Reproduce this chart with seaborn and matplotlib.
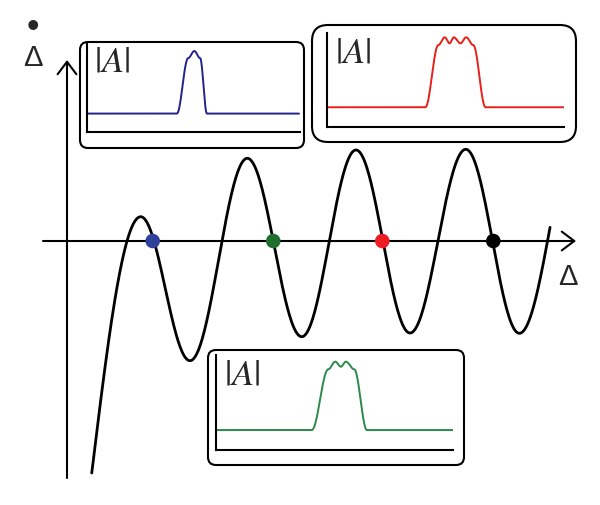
import numpy as np
import matplotlib.pyplot as plt
import seaborn as sns
from matplotlib.patches import FancyBboxPatch

# main curve: turning points (x = detuning, y = its time derivative)
curve_x = [0.225, 0.670, 1.118, 1.639, 2.134, 2.627, 3.118, 3.625, 4.112, 4.391]
curve_y = [-2.32, 0.243, -1.197, 0.827, -0.957, 0.910, -0.920, 0.917, -0.923, 0.137]

# coloured points on the detuning axis
dot_x = [0.779, 1.875, 2.866, 3.875]
dot_y = [0.0, 0.0, 0.0, 0.0]
dot_colors = ["#2e3f9c", "#1f6f2f", "#ee1c24", "#000000"]

# inset pulse profiles |A| (knots over one round trip, normalised)
blue_t = [0.0, 0.422, 0.475, 0.504, 0.531, 0.563, 0.995]
blue_a = [0.207, 0.207, 0.83, 0.91, 0.83, 0.207, 0.207]

red_t = [0.0, 0.415, 0.47, 0.497, 0.517, 0.535, 0.563, 0.587, 0.617, 0.669, 1.0]
red_a = [0.21, 0.21, 0.872, 0.954, 0.89, 0.954, 0.89, 0.954, 0.872, 0.21, 0.21]

green_t = [0.0, 0.404, 0.474, 0.503, 0.527, 0.548, 0.583, 0.637, 1.0]
green_a = [0.21, 0.21, 0.85, 0.93, 0.877, 0.93, 0.85, 0.21, 0.21]

W, H = 600, 505


def smooth(xk, yk, n=60, open_ends=False):
    # half-cosine between knots, so every knot is a flat turning point
    xs, ys = [], []
    last = len(xk) - 2
    for i in range(len(xk) - 1):
        t = np.linspace(0, 1, n)
        if open_ends and i == 0:
            s = np.sin(np.pi / 2 * t)
        elif open_ends and i == last:
            s = 1 - np.cos(np.pi / 2 * t)
        else:
            s = (1 - np.cos(np.pi * t)) / 2
        if i > 0:
            t, s = t[1:], s[1:]
        xs.append(xk[i] + (xk[i + 1] - xk[i]) * t)
        ys.append(yk[i] + (yk[i + 1] - yk[i]) * s)
    return np.concatenate(xs), np.concatenate(ys)


def px_rect(x0, y0, x1, y1):
    return [x0 / W, 1 - y1 / H, (x1 - x0) / W, (y1 - y0) / H]


def add_inset(fig, frame, inner, t, a, color, radius):
    fx = fig.add_axes(px_rect(*frame))
    fx.set_xlim(0, frame[2] - frame[0])
    fx.set_ylim(0, frame[3] - frame[1])
    fx.axis("off")
    fx.add_patch(FancyBboxPatch((1, 1), frame[2] - frame[0] - 2, frame[3] - frame[1] - 2,
                                boxstyle=f"round,pad=0,rounding_size={radius}",
                                facecolor="white", edgecolor="black", lw=1.5,
                                clip_on=False))

    ix = fig.add_axes(px_rect(*inner))
    ix.patch.set_alpha(0)
    tt, aa = smooth(t, a)
    sns.lineplot(x=tt, y=aa, ax=ix, color=color, lw=1.4,
                 estimator=None, sort=False)
    ix.set_xlim(0, 1)
    ix.set_ylim(0, 1)
    ix.set_xticks([])
    ix.set_yticks([])
    ix.set_xlabel("")
    ix.set_ylabel("")
    sns.despine(ax=ix)
    for side in ["left", "bottom"]:
        ix.spines[side].set_color("black")
        ix.spines[side].set_linewidth(1.5)
    ix.text(0.035, 0.79, r"$|A|$", transform=ix.transAxes, ha="left",
            va="center", fontsize=26)


sns.set_theme(style="white")
plt.rcParams["font.family"] = ["Liberation Sans", "DejaVu Sans"]
plt.rcParams["mathtext.fontset"] = "stix"

fig = plt.figure(figsize=(6, 5.05), dpi=100)
ax = fig.add_axes([0, 0, 1, 1])
ax.set_xlim(-0.609, 4.845)
ax.set_ylim(-2.64, 2.41)
ax.axis("off")

arrow = dict(arrowstyle="->,head_length=0.6,head_width=0.45", lw=1.5,
             color="black", shrinkA=0, shrinkB=0, mutation_scale=15)
ax.annotate("", xy=(0, 1.81), xytext=(0, -2.37), arrowprops=arrow)
ax.annotate("", xy=(4.627, 0), xytext=(-0.218, 0), arrowprops=arrow)

cx, cy = smooth(curve_x, curve_y, n=80, open_ends=True)
sns.lineplot(x=cx, y=cy, ax=ax, color="black", lw=2.0, estimator=None, sort=False)
sns.scatterplot(x=dot_x, y=dot_y, ax=ax, hue=[str(i) for i in range(4)],
                palette=dot_colors, s=110, edgecolor="none", legend=False, zorder=5)

ax.text(4.555, -0.36, "Δ", ha="center", va="center", fontsize=21)
ax.text(-0.309, 1.83, "Δ", ha="center", va="center", fontsize=21)
ax.text(-0.309, 2.14, "•", ha="center", va="center", fontsize=26)

add_inset(fig, (79, 41, 305, 149), (87, 43, 300, 132), blue_t, blue_a, "#22238c", 8)
add_inset(fig, (311, 24, 577, 143), (327, 33, 564, 127), red_t, red_a, "#e8201a", 16)
add_inset(fig, (207, 349, 465, 466), (216, 355, 453, 450), green_t, green_a, "#2a8a4a", 8)

fig.savefig("out.png", dpi=100)
